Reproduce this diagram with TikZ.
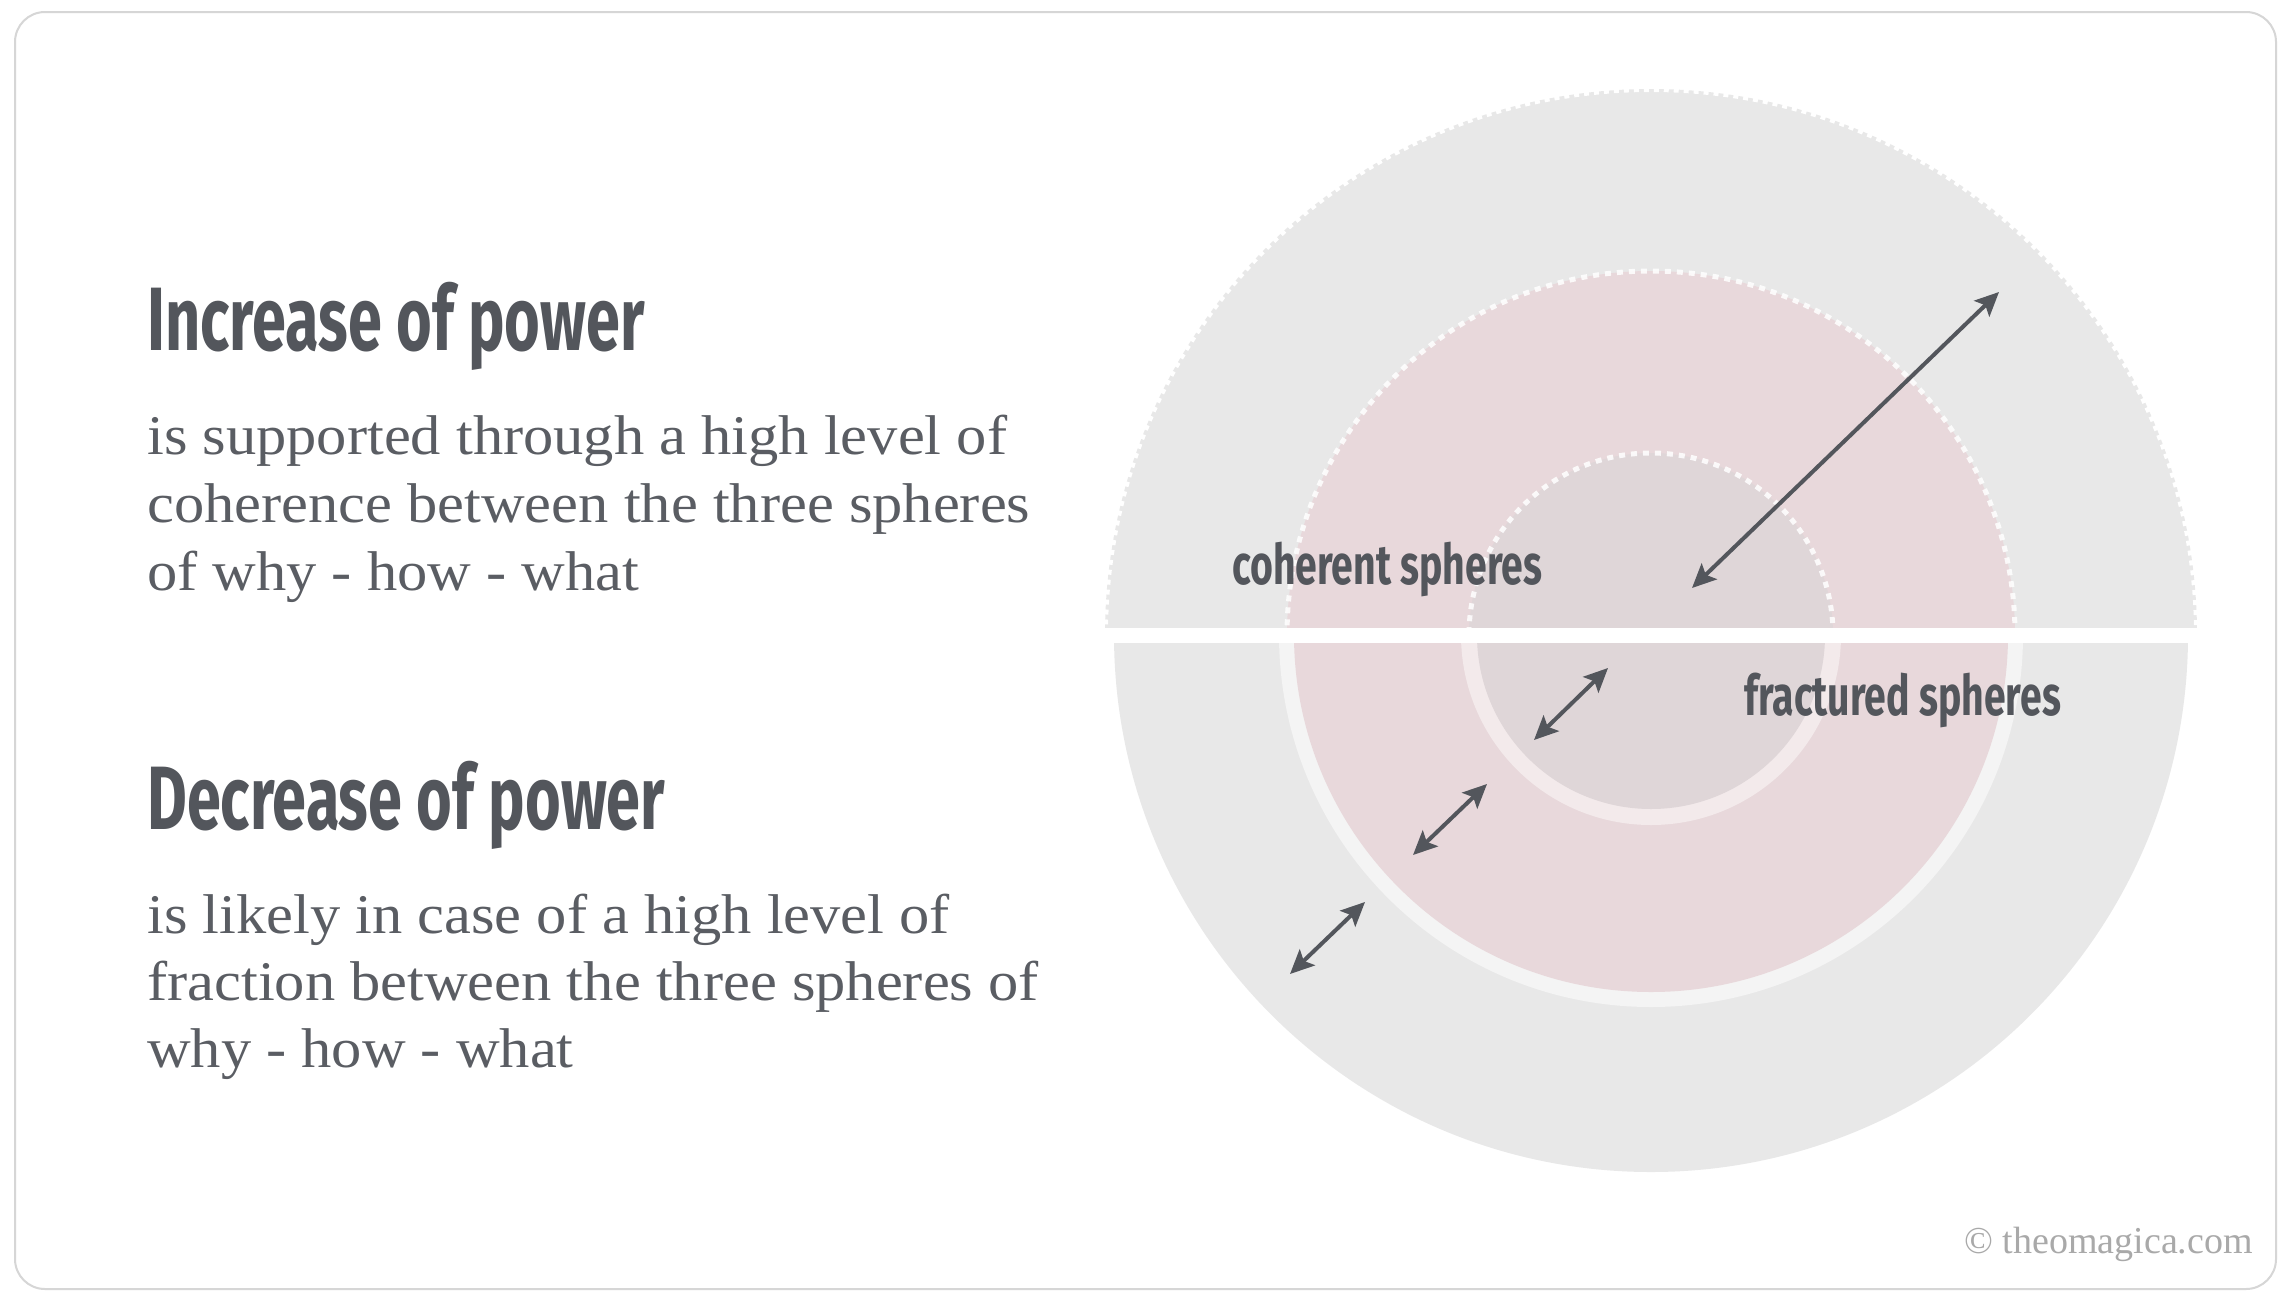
\documentclass[tikz,border=0pt]{standalone}
\usepackage{fontspec}
\usetikzlibrary{arrows.meta}
\setmainfont{Liberation Serif}
\newfontfamily\bodyfont[FakeStretch=1.08]{Liberation Serif}
\newfontfamily\headfont[FakeStretch=0.68]{Fira Sans}
\newfontfamily\labelfont[FakeStretch=0.70]{Fira Sans}
\definecolor{ink}{HTML}{53565C}
\definecolor{bodyink}{HTML}{5A5D63}
\definecolor{outgray}{HTML}{E8E8E8}
\definecolor{pinkc}{HTML}{E8D8DB}
\definecolor{innerc}{HTML}{DFD6D8}
\definecolor{ringa}{HTML}{F4F4F4}
\definecolor{ringb}{HTML}{F3EAEB}
\definecolor{cardline}{HTML}{D6D6D6}
\definecolor{copyc}{HTML}{A9A9A9}
\tikzset{
  heading/.style={anchor=base west, inner sep=0pt, text=ink, font=\headfont\bfseries\fontsize{90}{90}\selectfont},
  label/.style={anchor=base west, inner sep=0pt, text=ink, font=\labelfont\bfseries\fontsize{56}{56}\selectfont},
  bodyline/.style={anchor=base west, inner sep=0pt, text=bodyink, font=\bodyfont\fontsize{56}{68}\selectfont},
  dotring/.style={draw=white, draw opacity=0.85, line width=5pt, dash pattern=on 6pt off 6pt},
  dbl/.style={draw=ink, line width=4pt, {Stealth[length=24pt,width=22pt,inset=5pt]}-{Stealth[length=24pt,width=22pt,inset=5pt]}}
}
\begin{document}
\begin{tikzpicture}[x=1pt,y=-1pt]
\useasboundingbox (0,0) rectangle (2286,1304);
\fill[white] (0,0) rectangle (2286,1304);
\draw[cardline, line width=2pt, rounded corners=30pt] (15,12) rectangle (2276,1289);
\coordinate (c) at (1651,635);
% upper half: coherent spheres
\begin{scope}
\clip (1000,0) rectangle (2300,627);
\fill[outgray] (c) circle (546pt);
\draw[white, line width=6pt, dash pattern=on 5pt off 5pt] (c) circle (546pt);
\fill[pinkc] (c) circle (364pt);
\draw[dotring] (c) circle (364pt);
\fill[innerc] (c) circle (182pt);
\draw[dotring] (c) circle (182pt);
\end{scope}
% lower half: fractured spheres
\begin{scope}
\clip (1000,643) rectangle (2300,1300);
\fill[outgray] (c) circle (537pt);
\fill[ringa] (c) circle (372pt);
\fill[pinkc] (c) circle (357pt);
\fill[ringb] (c) circle (190pt);
\fill[innerc] (c) circle (174pt);
\end{scope}
% arrows
\coordinate (a0s) at (1692,588);
\coordinate (a0e) at (1999,292);
\coordinate (a1s) at (1534,740);
\coordinate (a1e) at (1608,668);
\coordinate (a2s) at (1413,855);
\coordinate (a2e) at (1487,784);
\coordinate (a3s) at (1290,974);
\coordinate (a3e) at (1365,902);
\draw[dbl] (a0s) -- (a0e);
\draw[dbl] (a1s) -- (a1e);
\draw[dbl] (a2s) -- (a2e);
\draw[dbl] (a3s) -- (a3e);
% labels
\node[label] (coh) at (1232,584) {coherent spheres};
\node[label] (fra) at (1744,715) {fractured spheres};
% left texts
\node[heading] (h1) at (147,350) {Increase of power};
\node[bodyline] (b11) at (147,454) {is supported through a high level of};
\node[bodyline] (b12) at (147,522) {coherence between the three spheres};
\node[bodyline] (b13) at (147,590) {of why - how - what};
\node[heading] (h2) at (147,829) {Decrease of power};
\node[bodyline] (b21) at (147,933) {is likely in case of a high level of};
\node[bodyline] (b22) at (147,1000) {fraction between the three spheres of};
\node[bodyline] (b23) at (147,1067) {why - how - what};
\node[anchor=base east, inner sep=0pt, text=copyc, font=\fontsize{38}{38}\selectfont] (copy) at (2253,1253) {© theomagica.com};
\end{tikzpicture}
\end{document}
